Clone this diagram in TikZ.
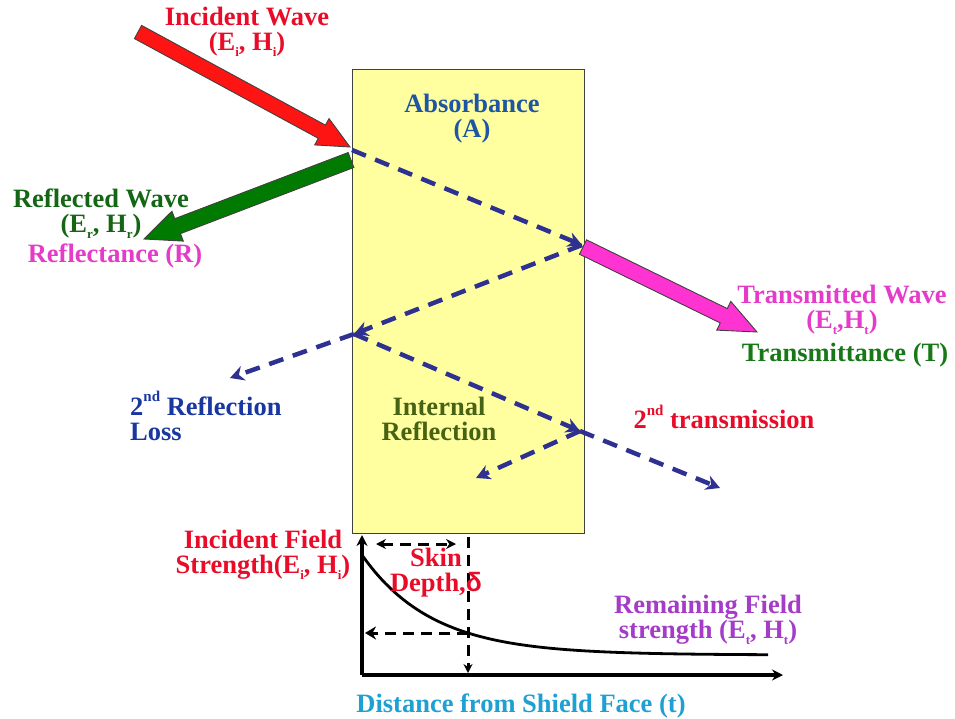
\documentclass[tikz,border=0pt]{standalone}
\usepackage{fontspec}
\setmainfont{Liberation Serif}
\newfontfamily\greekfont{Liberation Sans}
\usetikzlibrary{calc,arrows.meta}
\definecolor{txtred}{RGB}{232,12,40}
\definecolor{arrred}{RGB}{255,20,20}
\definecolor{arrgreen}{RGB}{0,122,0}
\definecolor{arrmag}{RGB}{255,50,210}
\definecolor{txtmag}{RGB}{228,60,200}
\definecolor{txtgreen}{RGB}{24,120,24}
\definecolor{txtblue}{RGB}{30,85,165}
\definecolor{txtnavy}{RGB}{25,55,160}
\definecolor{txtolive}{RGB}{72,98,20}
\definecolor{txtpurple}{RGB}{165,60,200}
\definecolor{txtcyan}{RGB}{30,160,210}
\definecolor{boxyellow}{RGB}{255,255,160}
\definecolor{dashnavy}{RGB}{46,49,146}
\newcommand{\subtx}[1]{\raisebox{-0.22em}{\fontsize{13}{13}\selectfont #1}}
\newcommand{\suptx}[1]{\raisebox{0.5em}{\fontsize{15}{15}\selectfont #1}}
\newcommand{\blockarrow}[6]{%
  \coordinate (ba-h) at ($(#2)!#6!(#1)$);
  \filldraw[fill=#3, draw=black!75, line width=0.9pt]
    ($(#1)!#4!90:(#2)$) -- ($(ba-h)!#4!90:(#2)$) -- ($(ba-h)!#5!90:(#2)$) -- (#2)
    -- ($(ba-h)!#5!-90:(#2)$) -- ($(ba-h)!#4!-90:(#2)$) -- ($(#1)!#4!-90:(#2)$) -- cycle;}
\tikzset{
  lbl/.style={font=\bfseries\fontsize{26.5}{25}\selectfont, inner sep=0pt, align=center},
  ray/.style={draw=dashnavy, line width=4.5pt, dash pattern=on 15pt off 10pt, -{Stealth[length=14pt,width=15pt]}},
  aux/.style={draw=black, line width=3pt, dash pattern=on 11pt off 7pt},
  axis/.style={draw=black, line width=3.5pt, -{Stealth[length=11pt,width=11pt]}}
}
\begin{document}
\begin{tikzpicture}[x=1pt,y=-1pt]
\useasboundingbox (0,0) rectangle (955,719);
% shield
\node[draw=black!75, fill=boxyellow, line width=1pt, minimum width=232pt, minimum height=463pt, inner sep=0pt] (shield) at (468,301.5) {};
% ray points
\coordinate (p0) at (352,150);
\coordinate (p1) at (582,245);
\coordinate (p2) at (354,334);
\coordinate (p3) at (580,431);
\coordinate (r2) at (230,378);
\coordinate (t2) at (720,488);
\coordinate (i2) at (476,478);
\draw[ray] (p0) -- (p1);
\draw[ray] (p1) -- (p2);
\draw[ray] (p2) -- (r2);
\draw[ray] (p2) -- (p3);
\draw[ray] (p3) -- (t2);
\draw[ray] (p3) -- (i2);
% block arrows
\coordinate (inc0) at (138,32);
\coordinate (inc1) at (350,147);
\coordinate (ref0) at (351,160);
\coordinate (ref1) at (144,239);
\coordinate (tr0) at (583,247);
\coordinate (tr1) at (757,332);
\blockarrow{inc0}{inc1}{arrred}{7.5pt}{15pt}{32pt}
\blockarrow{ref0}{ref1}{arrgreen}{8pt}{16pt}{36pt}
\blockarrow{tr0}{tr1}{arrmag}{8pt}{16pt}{37pt}
% labels
\node[lbl, text=txtred] (incl) at (247,32) {Incident Wave\\(E\subtx{i}, H\subtx{i})};
\node[lbl, text=txtblue] (absl) at (472,119) {Absorbance\\(A)};
\node[lbl, text=txtgreen!85!black] (refl) at (101,214) {Reflected Wave\\(E\subtx{r}, H\subtx{r})};
\node[lbl, text=txtmag] (rfct) at (115,256) {Reflectance (R)};
\node[lbl, text=txtmag] (trl) at (842,310) {Transmitted Wave\\(E\subtx{t},H\subtx{t})};
\node[lbl, text=txtgreen] (trct) at (845,355) {Transmittance (T)};
\node[lbl, text=txtnavy, anchor=west, align=left] (r2l) at (130,416) {2\suptx{nd} Reflection\\Loss};
\node[lbl, text=txtolive] (intl) at (439,419) {Internal\\Reflection};
\node[lbl, text=txtred] (t2l) at (724,417) {2\suptx{nd} transmission};
% graph
\coordinate (org) at (362,675);
\coordinate (ytop) at (362,535);
\coordinate (xend) at (783,675);
\draw[axis] (org) -- (ytop);
\draw[axis] (org) -- (xend);
\draw[black, line width=2.8pt] plot[domain=362:768, samples=90] (\x, {655-100*exp(-(\x-362)/70)});
\coordinate (sd0) at (468,537);
\coordinate (sd1) at (468,673);
\coordinate (sdh0) at (468,633);
\coordinate (sdh1) at (365,633);
\coordinate (dd0) at (376,544);
\coordinate (dd1) at (456,544);
\draw[aux, -{Stealth[length=9pt,width=9pt]}] (sd0) -- (sd1);
\draw[aux, -{Stealth[length=11pt,width=13pt]}] (sdh0) -- (sdh1);
\draw[aux, {Stealth[length=10pt,width=10pt]}-{Stealth[length=10pt,width=10pt]}] (dd0) -- (dd1);
\node[lbl, text=txtred] (ifl) at (263,555) {Incident Field\\Strength(E\subtx{i}, H\subtx{i})};
\node[lbl, text=txtred] (skl) at (436,573) {Skin\\Depth,{\greekfont δ}};
\node[lbl, text=txtpurple] (rfl) at (708,620) {Remaining Field\\strength (E\subtx{t}, H\subtx{t})};
\node[lbl, text=txtcyan] (dstl) at (521,706) {Distance from Shield Face (t)};
\end{tikzpicture}
\end{document}
